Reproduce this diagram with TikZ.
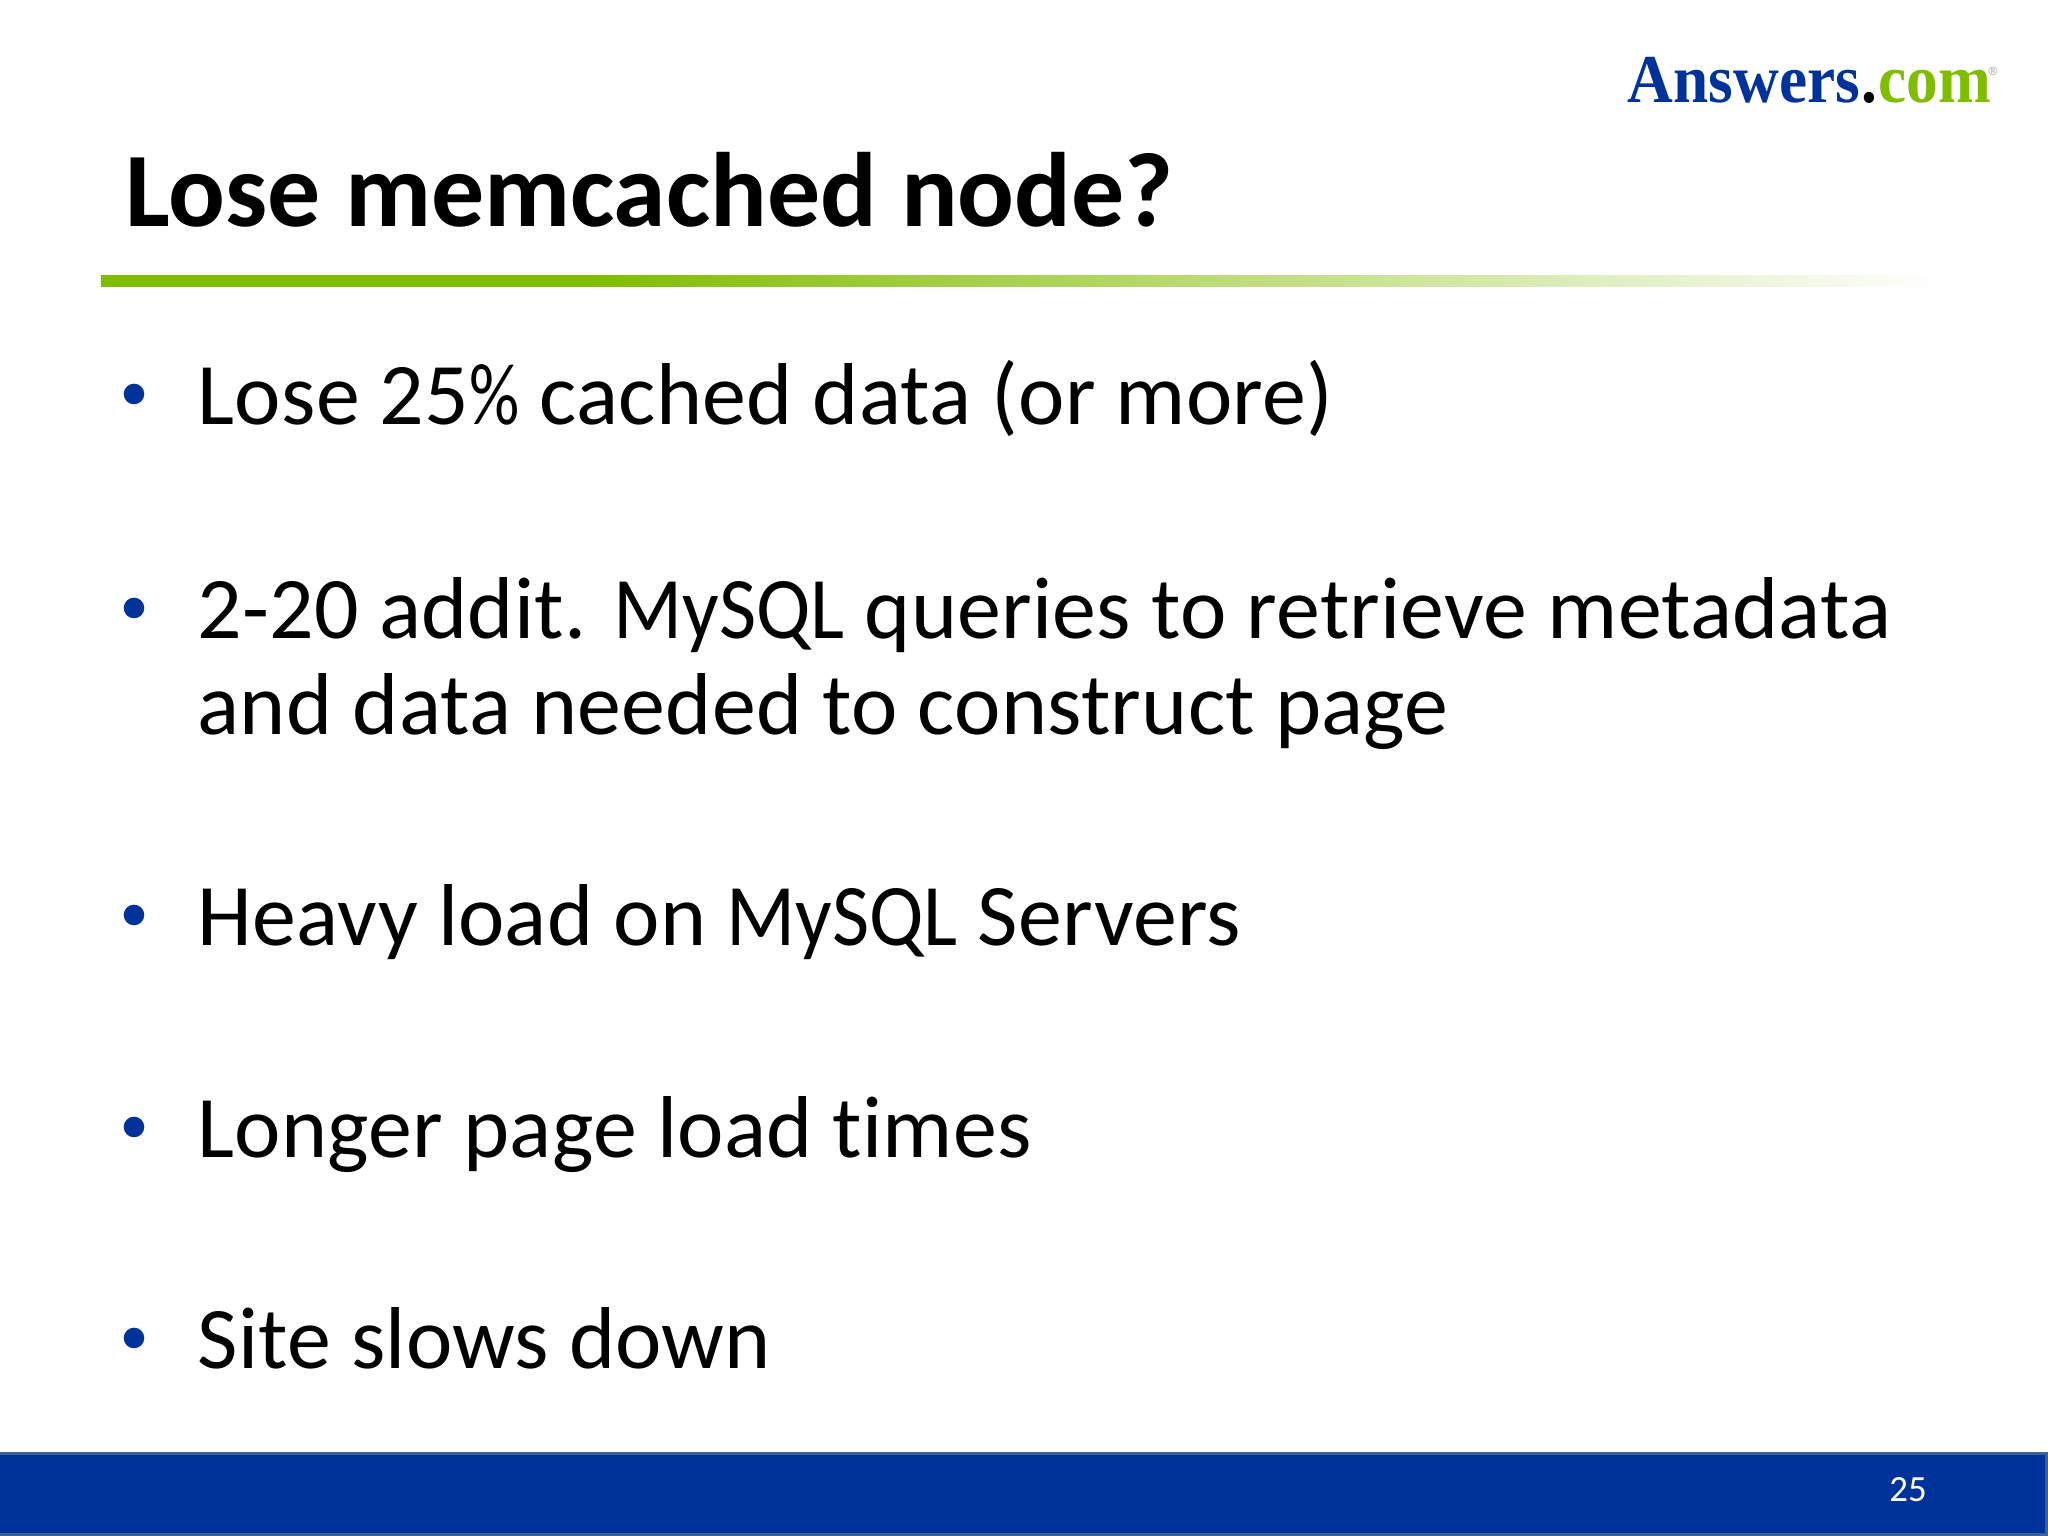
\documentclass[tikz,border=0pt]{standalone}
\usepackage{fontspec}
\setmainfont[Ligatures=NoCommon,LetterSpace=0.3]{Carlito}
\newfontfamily\titlefont[Ligatures=NoCommon]{Carlito}
\newfontfamily\logofont[FakeStretch=0.925]{Liberation Serif}
\newfontfamily\narrowfont[FakeStretch=0.92]{Carlito}
\newfontfamily\pctfont[FakeStretch=0.8]{Carlito}
\newcommand{\sqlname}{{\narrowfont MySQL}}
\definecolor{slideblue}{HTML}{003399}
\definecolor{slideedge}{HTML}{3A6098}
\definecolor{slidegreen}{HTML}{80BC00}
\pgfdeclarehorizontalshading{barfade}{100bp}{color(0bp)=(slidegreen); color(25bp)=(slidegreen); color(38bp)=(slidegreen); color(75bp)=(white); color(100bp)=(white)}
\tikzset{
	titletext/.style={anchor=base west,inner sep=0pt,font=\titlefont\fontsize{30.1}{36}\selectfont\bfseries},
	bodytext/.style={anchor=base west,inner sep=0pt,font=\fontsize{25}{30}\selectfont},
	logotext/.style={anchor=base west,inner sep=0pt,font=\logofont\fontsize{19.5}{25}\selectfont\bfseries},
	dot/.style={fill=slideblue,draw=none}
}
\begin{document}
\begin{tikzpicture}
		\useasboundingbox (0,0) rectangle (20.48,15.36);
		% footer
		\draw[slideedge,line width=0.03cm,fill=slideblue] (-0.1,0.015) rectangle (20.465,0.82);
		\node[anchor=base,inner sep=0pt,text=white,font=\fontsize{10.5}{12}\selectfont] at (19.08,0.34) (pagenum) {25};
		% logo
		\node[logotext,text=slideblue] at (16.27,14.33) (answers) {Answers};
		\node[logotext,text=black] at (answers.base east) [anchor=base west] (period) {.};
		\node[logotext,text=slidegreen] at (period.base east) [anchor=base west] (com) {com};
		\node[inner sep=0pt,text=gray!60,font=\fontsize{8}{9}\selectfont] at (19.95,14.59) (reg) {®};
		% title
		\node[titletext] at (1.25,13.09) (title) {Lose memcached node?};
		\shade[shading=barfade] (1.01,12.49) rectangle (19.4,12.6);
		% bullets
		\draw[dot] (1.34,11.42) circle (0.103);
		\node[bodytext] at (1.97,11.11) (lose) {Lose 25{\pctfont\%} cached data (or more)};
		\draw[dot] (1.34,9.28) circle (0.103);
		\node[bodytext] at (1.97,8.97) (queries) {2-20 addit. \sqlname{} queries to retrieve metadata};
		\node[bodytext] at (1.97,8.01) (construct) {and data needed to construct page};
		\draw[dot] (1.34,6.21) circle (0.103);
		\node[bodytext] at (1.97,5.90) (heavy) {Heavy load on \sqlname{} Servers};
		\draw[dot] (1.34,4.09) circle (0.103);
		\node[bodytext] at (1.97,3.78) (longer) {Longer page load times};
		\draw[dot] (1.34,1.98) circle (0.103);
		\node[bodytext] at (1.97,1.67) (site) {Site slows down};
	\end{tikzpicture}
\end{document}
